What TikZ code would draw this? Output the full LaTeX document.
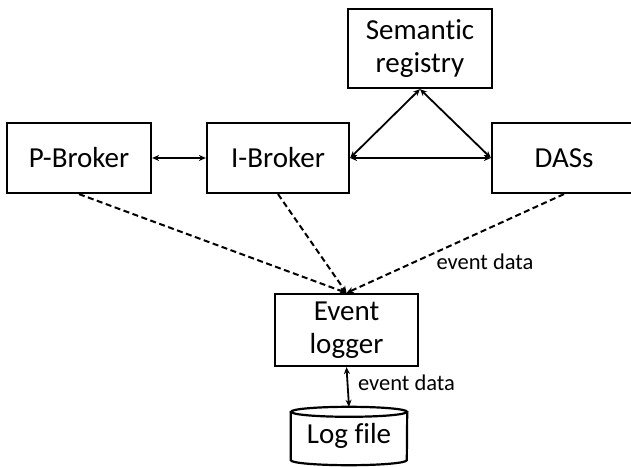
\documentclass[tikz,border=0pt]{standalone}
\usepackage{fontspec}
\setmainfont{Carlito}[Ligatures=NoCommon]
\usetikzlibrary{arrows.meta}
\tikzset{
  block/.style={draw, line width=2.2pt, minimum width=144pt, minimum height=70pt,
    inner sep=0pt, align=center, font=\fontsize{29}{33}\selectfont},
  link/.style={line width=1.8pt, {Stealth[length=7pt,width=6pt]}-{Stealth[length=7pt,width=6pt]}},
  feed/.style={line width=2pt, dash pattern=on 6pt off 3.5pt, -{Stealth[length=7pt,width=6pt]}},
  lbl/.style={font=\fontsize{22.5}{26}\selectfont, inner sep=0pt}
}
\begin{document}
\begin{tikzpicture}[x=1pt,y=1pt]
\useasboundingbox (0,0) rectangle (631,466);
\clip (0,0) rectangle (631,466);

% component boxes
\node[block, minimum height=79pt] (sem) at (420,417.5) {Semantic\\registry};
\node[block] (pb) at (79,308) {P-Broker};
\node[block, minimum width=142pt] (ib) at (278,308) {I-Broker};
\node[block] (das) at (564,308) {DASs};
\node[block, minimum width=143pt, minimum height=72pt] (ev) at (346.5,136) {Event\\logger};

% log file drum
\node[minimum width=116pt, minimum height=58pt, inner sep=0pt,
      font=\fontsize{29}{33}\selectfont] (log) at (349,30) {\raisebox{-7pt}{Log file}};
\draw[line width=2.2pt] ([yshift=-5pt]log.north) ellipse [x radius=58pt, y radius=5pt];
\draw[line width=2.2pt] ([yshift=-5pt]log.north west) -- ([yshift=5pt]log.south west)
  arc[start angle=180, end angle=360, x radius=58pt, y radius=5pt] -- ([yshift=-5pt]log.north east);

% two-way links between brokers and services
\draw[link] (pb.east) -- (ib.west);
\draw[link] (ib.east) -- (das.west);
\draw[link] (ib.east) -- (sem.south);
\draw[link] (sem.south) -- (das.west);

% event reporting
\draw[feed] (pb.south) -- (ev.north);
\draw[feed] (ib.south) -- (ev.north);
\draw[feed] (das.south) -- (ev.north);
\node[lbl] (ed1) at (485,204) {event data};

\draw[link] (ev.south) -- (log.north);
\node[lbl] (ed2) at (406.5,83) {event data};
\end{tikzpicture}
\end{document}
